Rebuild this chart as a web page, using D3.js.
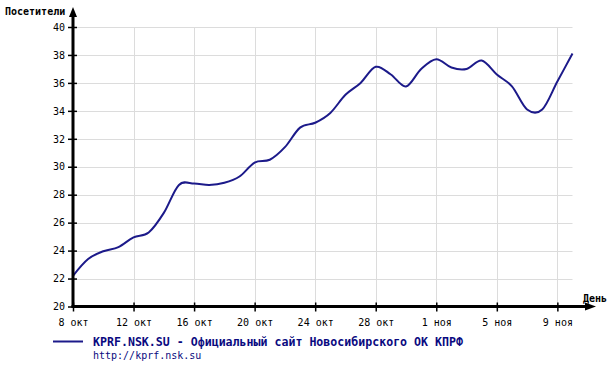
<!DOCTYPE html>
<html>
<head>
<meta charset="utf-8">
<script src="https://cdn.jsdelivr.net/npm/d3@7"></script>
<style>
  body { margin: 0; background: #fff; }
  text { font-family: 'DejaVu Sans Mono', monospace; }
</style>
</head>
<body>
<div id="app"></div>
<script>
// day labels (8 окт .. 10 ноя)
const days = [
  '8 окт', '9 окт', '10 окт', '11 окт', '12 окт', '13 окт', '14 окт', '15 окт',
  '16 окт', '17 окт', '18 окт', '19 окт', '20 окт', '21 окт', '22 окт', '23 окт',
  '24 окт', '25 окт', '26 окт', '27 окт', '28 окт', '29 окт', '30 окт', '31 окт',
  '1 ноя', '2 ноя', '3 ноя', '4 ноя', '5 ноя', '6 ноя', '7 ноя', '8 ноя',
  '9 ноя', '10 ноя'
];
const visitors = [
  22.2, 23.4, 23.95, 24.25, 24.95, 25.3, 26.7, 28.7,
  28.8, 28.7, 28.85, 29.3, 30.3, 30.5, 31.4, 32.8,
  33.15, 33.85, 35.15, 36.0, 37.15, 36.6, 35.75, 37.0,
  37.7, 37.1, 37.0, 37.6, 36.6, 35.75, 34.1, 34.1,
  36.1, 38.1
];
const xTickLabels = ['8 окт', '12 окт', '16 окт', '20 окт', '24 окт', '28 окт', '1 ноя', '5 ноя', '9 ноя'];
const yTicks = [20, 22, 24, 26, 28, 30, 32, 34, 36, 38, 40];

const lineColor = '#1c1a8a';

const svg = d3.select('#app')
  .append('svg')
  .attr('width', 612)
  .attr('height', 365);

const x = d3.scalePoint().domain(days).range([73, 572.5]);
const y = d3.scaleLinear().domain([20, 40]).range([306.5, 27]);

// grid
svg.append('g')
  .selectAll('line')
  .data(yTicks.slice(1))
  .enter()
  .append('line')
  .attr('x1', 73)
  .attr('x2', 572.5)
  .attr('y1', (d) => Math.round(y(d)) + 0.5)
  .attr('y2', (d) => Math.round(y(d)) + 0.5)
  .attr('stroke', '#dcdcdc');

svg.append('g')
  .selectAll('line')
  .data(xTickLabels.slice(1))
  .enter()
  .append('line')
  .attr('x1', (d) => Math.round(x(d)) + 0.5)
  .attr('x2', (d) => Math.round(x(d)) + 0.5)
  .attr('y1', y(40))
  .attr('y2', y(20))
  .attr('stroke', '#dcdcdc');

// line
const line = d3.line()
  .x((d, i) => x(days[i]))
  .y((d) => y(d))
  .curve(d3.curveCatmullRom.alpha(0));

svg.append('path')
  .datum(visitors)
  .attr('d', line)
  .attr('fill', 'none')
  .attr('stroke', lineColor)
  .attr('stroke-width', 2);

// axes
const yAxis = svg.append('g')
  .attr('transform', 'translate(73,0)')
  .call(d3.axisLeft(y).tickValues(yTicks).tickSize(0).tickPadding(8));
yAxis.select('.domain').remove();
yAxis.selectAll('.tick text')
  .attr('font-size', 10)
  .attr('font-family', 'DejaVu Sans Mono')
  .attr('fill', '#000');
yAxis.selectAll('.tick')
  .append('line')
  .attr('x1', -5)
  .attr('x2', 4)
  .attr('stroke', '#000')
  .attr('stroke-width', 1.5);

const xAxis = svg.append('g')
  .attr('transform', 'translate(0,306.5)')
  .call(d3.axisBottom(x).tickValues(xTickLabels).tickSize(0).tickPadding(12));
xAxis.select('.domain').remove();
xAxis.selectAll('.tick text')
  .attr('font-size', 10)
  .attr('font-family', 'DejaVu Sans Mono')
  .attr('fill', '#000');
xAxis.selectAll('.tick')
  .append('line')
  .attr('y1', -4)
  .attr('y2', 5)
  .attr('stroke', '#000')
  .attr('stroke-width', 1.5);

// axis lines with arrows
svg.append('line')
  .attr('x1', 73).attr('x2', 73)
  .attr('y1', 307.5).attr('y2', 14)
  .attr('stroke', '#000').attr('stroke-width', 3);
svg.append('path')
  .attr('d', 'M73,7 L69,17 L77,17 Z')
  .attr('fill', '#000');

svg.append('line')
  .attr('x1', 71.5).attr('x2', 588)
  .attr('y1', 306.5).attr('y2', 306.5)
  .attr('stroke', '#000').attr('stroke-width', 3);
svg.append('path')
  .attr('d', 'M596,306.5 L585,302.5 L585,310.5 Z')
  .attr('fill', '#000');

// axis titles
svg.append('text')
  .attr('x', 5).attr('y', 15)
  .attr('font-size', 10).attr('font-weight', 'bold')
  .text('Посетители');
svg.append('text')
  .attr('x', 583).attr('y', 302)
  .attr('font-size', 10).attr('font-weight', 'bold')
  .text('День');

// legend
svg.append('line')
  .attr('x1', 53).attr('x2', 83)
  .attr('y1', 341.5).attr('y2', 341.5)
  .attr('stroke', lineColor).attr('stroke-width', 2);
svg.append('text')
  .attr('x', 93).attr('y', 345.5)
  .attr('font-size', 11.6).attr('font-weight', 'bold')
  .attr('fill', '#0a0a80')
  .text('KPRF.NSK.SU - Официальный сайт Новосибирского ОК КПРФ');
svg.append('text')
  .attr('x', 93).attr('y', 358.5)
  .attr('font-size', 10)
  .attr('fill', '#0a0a80')
  .text('http://kprf.nsk.su');
</script>
</body>
</html>
